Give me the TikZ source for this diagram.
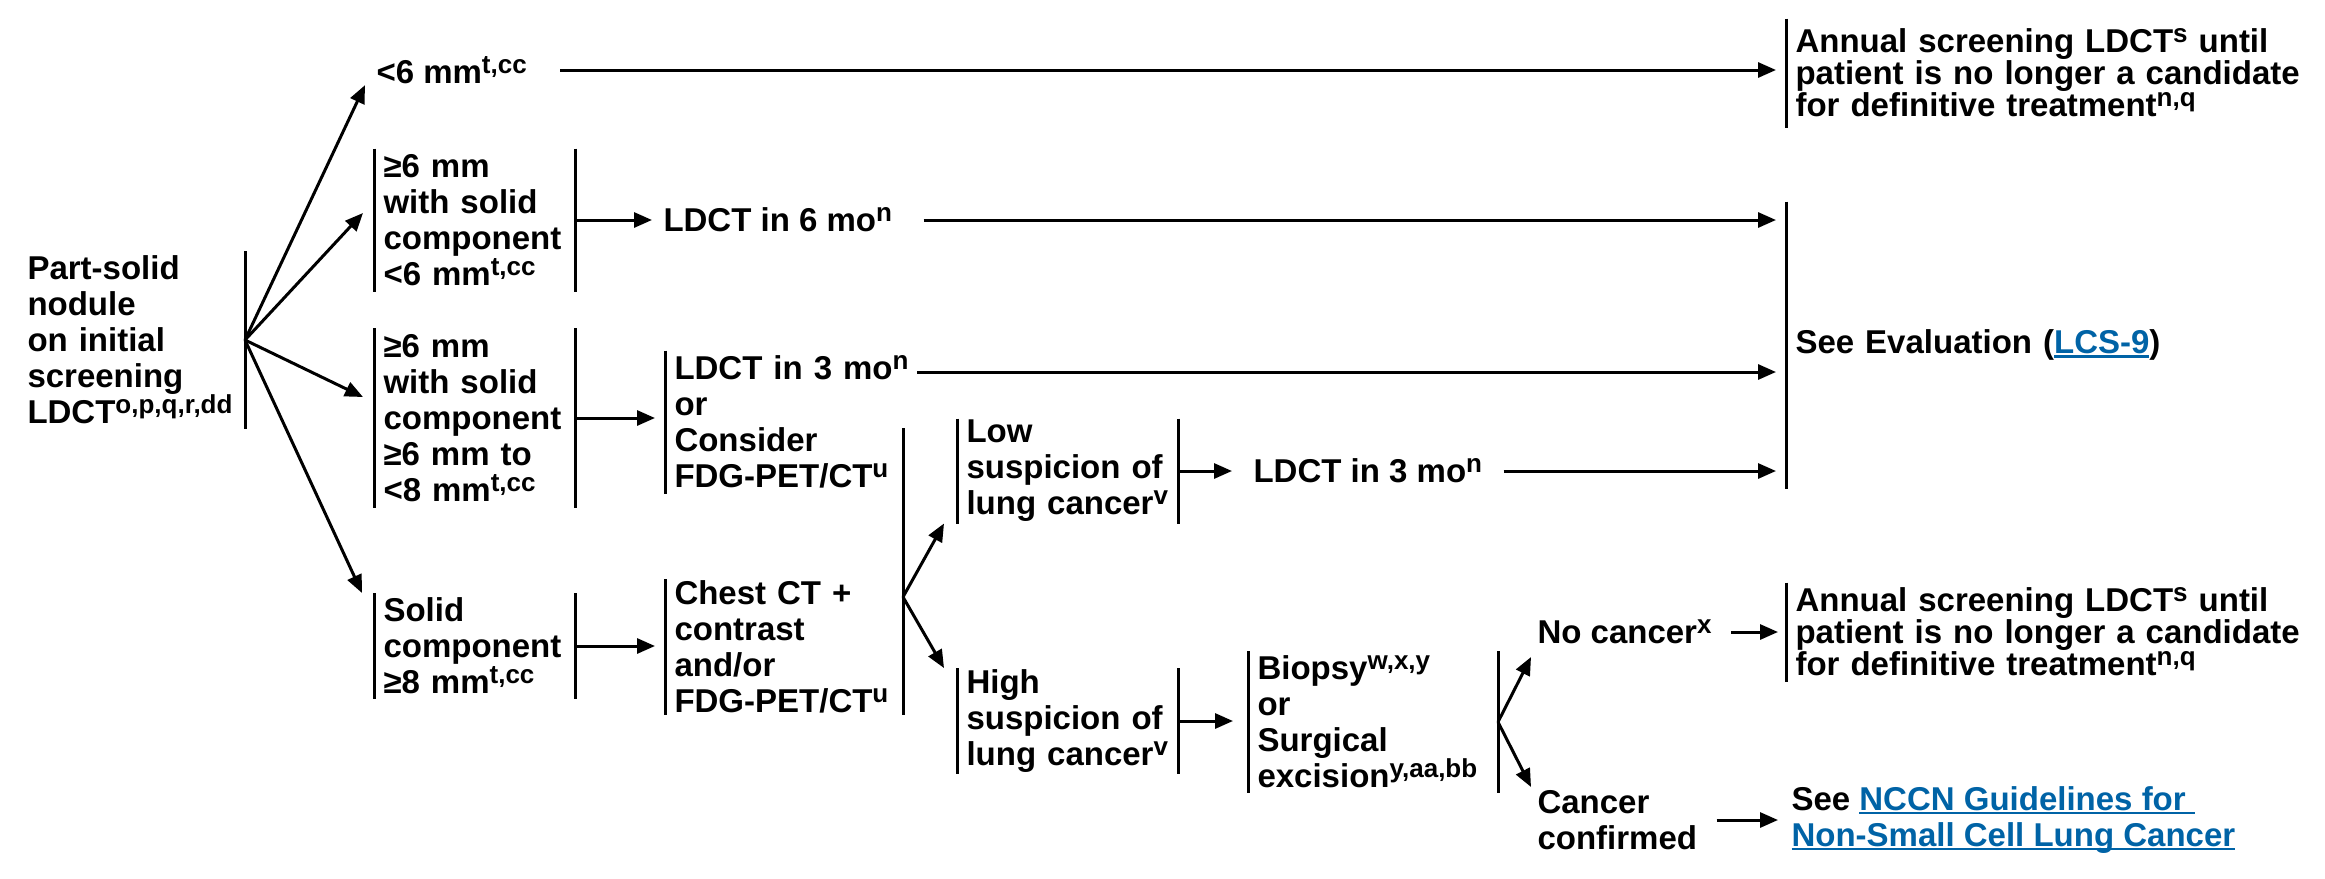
\documentclass[tikz,border=0pt]{standalone}
\usepackage{fontspec}
\setmainfont{Liberation Sans}
\usepackage{tikz}
\usetikzlibrary{arrows.meta}
\usetikzlibrary{calc}
\definecolor{nccnblue}{RGB}{0,99,166}
\newcommand{\nccnlink}[1]{\textcolor{nccnblue}{\setbox0\hbox{#1}\rlap{\rule[-4pt]{\wd0}{2.5pt}}\box0}}
\newcommand{\nccnsup}[1]{\raisebox{10pt}{\fontsize{26}{26}\selectfont #1}}

\begin{document}
\begin{tikzpicture}[x=1pt,y=-1pt,line width=3pt,
    every node/.style={font=\fontsize{33}{36}\selectfont\bfseries,inner sep=0pt,anchor=west},
    box/.style={align=left,inner xsep=8pt,inner ysep=0pt},
    tight/.style={font=\fontsize{33}{32}\selectfont\bfseries},
    arr/.style={-{Triangle[length=18pt,width=15pt]}}]
        \useasboundingbox (0,0) rectangle (2325,878);
        \node[box,text width=208pt,minimum height=175pt] (root) at (18,340)
            {Part-solid\\nodule\\on initial\\screening\\LDCT\nccnsup{o,p,q,r,dd}};
        \node (lt6) at (375,70) {<6 mm\nccnsup{t,cc}};
        \node[box,text width=182pt,minimum height=140pt] (ge6a) at (374,220)
            {≥6 mm\\with solid\\component\\<6 mm\nccnsup{t,cc}};
        \node[box,text width=182pt,minimum height=177pt] (ge6b) at (374,418)
            {≥6 mm\\with solid\\component\\≥6 mm to\\<8 mm\nccnsup{t,cc}};
        \node[box,text width=182pt,minimum height=103pt] (solid) at (374,646)
            {Solid\\component\\≥8 mm\nccnsup{t,cc}};
        \node (ldct6) at (662,220) {LDCT in 6 mo\nccnsup{n}};
        \node[box,text width=240pt,minimum height=140pt] (ldct3or) at (665,422)
            {LDCT in 3 mo\nccnsup{n}\\or\\Consider\\FDG-PET/CT\nccnsup{u}};
        \node[box,text width=219pt,minimum height=131pt] (chestct) at (665,647)
            {Chest CT +\\contrast\\and/or\\FDG-PET/CT\nccnsup{u}};
        \node[box,text width=202pt,minimum height=102pt] (low) at (957,471)
            {Low\\suspicion of\\lung cancer\nccnsup{v}};
        \node[box,text width=202pt,minimum height=102pt] (high) at (957,721)
            {High\\suspicion of\\lung cancer\nccnsup{v}};
        \node (ldct3) at (1252,471) {LDCT in 3 mo\nccnsup{n}};
        \node[box,text width=231pt,minimum height=139pt] (biopsy) at (1248,722)
            {Biopsy\nccnsup{w,x,y}\\or\\Surgical\\excision\nccnsup{y,aa,bb}};
        \node (nocancer) at (1536,632) {No cancer\nccnsup{x}};
        \node[align=left] (confirmed) at (1536,820) {Cancer\\confirmed};
        \node[box,tight,text width=518pt,minimum height=106pt] (annual1) at (1786,73)
            {Annual screening LDCT\nccnsup{s} until\\patient is no longer a candidate\\for definitive treatment\nccnsup{n,q}};
        \node[box,text width=518pt,minimum height=284pt] (evalbox) at (1786,345)
            {See Evaluation (\nccnlink{LCS-9})};
        \node[box,tight,text width=518pt,minimum height=96pt] (annual2) at (1786,632)
            {Annual screening LDCT\nccnsup{s} until\\patient is no longer a candidate\\for definitive treatment\nccnsup{n,q}};
        \node[align=left] (nsclc) at (1790,820)
            {See \nccnlink{NCCN Guidelines for\ }\\\nccnlink{Non-Small Cell Lung Cancer}};
        \coordinate (e1) at (917,372);
        \draw (root.north east) -- (root.south east);
        \foreach \b in {ge6a,ge6b,solid,low,high,biopsy}
            {\draw (\b.north west) -- (\b.south west) (\b.north east) -- (\b.south east);}
        \foreach \b in {ldct3or,chestct,annual1,evalbox,annual2}
            {\draw (\b.north west) -- (\b.south west);}
        \draw (chestct.south east) -- (chestct.east |- 0,428);
        \draw[arr] (root.east) -- ([xshift=-10pt]lt6.south west);
        \draw[arr] (root.east) -- ([xshift=-11pt,yshift=7pt]ge6a.west);
        \draw[arr] (root.east) -- ([xshift=-11pt,yshift=21pt]ge6b.west);
        \draw[arr] (root.east) -- ([xshift=-12pt]solid.north west);
        \draw[arr,shorten >=10pt] ([xshift=32pt]lt6.east) -- (lt6.east -| annual1.west);
        \draw[arr,shorten >=10pt] (ge6a.east) -- (ldct6.west);
        \draw[arr,shorten >=10pt] ([xshift=30pt]ldct6.east) -- (ldct6.east -| evalbox.west);
        \draw[arr,shorten >=10pt] (ge6b.east) -- (ge6b.east -| ldct3or.west);
        \draw[arr,shorten >=10pt] (e1) -- (e1 -| evalbox.west);
        \draw[arr,shorten >=10pt] (solid.east) -- (solid.east -| chestct.west);
        \draw[arr] (chestct.east |- 0,597) -- ([xshift=-13pt]low.south west);
        \draw[arr] (chestct.east |- 0,597) -- ([xshift=-13pt]high.north west);
        \draw[arr,shorten >=20pt] (low.east) -- (ldct3.west);
        \draw[arr,shorten >=10pt] ([xshift=20pt]ldct3.east) -- (ldct3.east -| evalbox.west);
        \draw[arr,shorten >=15pt] (high.east) -- (high.east -| biopsy.west);
        \draw[arr] (biopsy.east) -- ([xshift=-5pt,yshift=-25pt]nocancer.west);
        \draw[arr] (biopsy.east) -- ([xshift=-5pt,yshift=33pt]confirmed.west);
        \draw[arr,shorten >=8pt] ([xshift=18pt]nocancer.east) -- (nocancer.east -| annual2.west);
        \draw[arr,shorten >=12pt] ([xshift=18pt]confirmed.east) -- (confirmed.east -| nsclc.west);
    \end{tikzpicture}
\end{document}
